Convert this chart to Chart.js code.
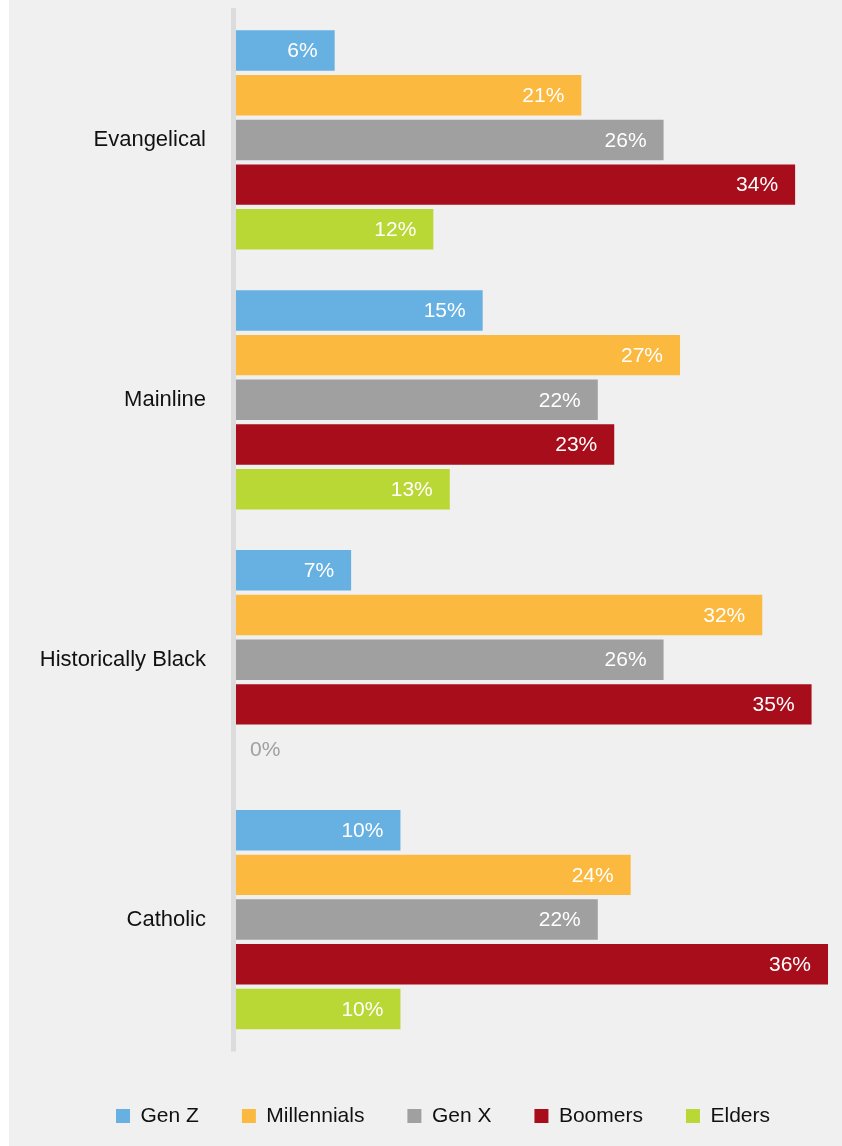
<!DOCTYPE html>
<html>
<head>
<meta charset="utf-8">
<title>Religious tradition by generation</title>
<script src="https://cdn.jsdelivr.net/npm/chart.js@4"></script>
<style>
    body { margin: 0; background: #fff; }
    #wrap {
        width: 842px;
        height: 1146px;
        background: linear-gradient(to right, #fff 9px, #f0f0f0 9px);
    }
    canvas { display: block; }
</style>
</head>
<body>
<div id="wrap"><canvas id="genChart" width="842" height="1146"></canvas></div>
<script>
const FONT = "'Liberation Sans', Arial, sans-serif";

const traditions = ['Evangelical', 'Mainline', 'Historically Black', 'Catholic'];
const generations = ['Gen Z', 'Millennials', 'Gen X', 'Boomers', 'Elders'];

// percent of each generation, one entry per tradition
const genZ = [6, 15, 7, 10];
const millennials = [21, 27, 32, 24];
const genX = [26, 22, 26, 22];
const boomers = [34, 23, 35, 36];
const elders = [12, 13, 0, 10];

const colors = ['#67b1e2', '#fbb93f', '#a0a0a0', '#a80d1c', '#b9d835'];

const seriesValues = [genZ, millennials, genX, boomers, elders];

/*
 * Grey line down the left edge of the bars
 */
const axisLine = {
    id: 'axisLine',
    beforeDatasetsDraw(chart) {
        const c = chart.ctx;
        const area = chart.chartArea;
        c.save();
        c.fillStyle = '#dcdcdc';
        c.fillRect(area.left - 5, area.top - 2, 5, area.bottom - area.top + 4);
        c.restore();
    }
};

/*
 * Percent labels at the end of each bar (zero values sit just right of the axis)
 */
const barLabels = {
    id: 'barLabels',
    afterDatasetsDraw(chart) {
        const c = chart.ctx;
        c.save();
        c.font = '21px ' + FONT;
        c.textBaseline = 'middle';
        chart.data.datasets.forEach((ds, i) => {
            chart.getDatasetMeta(i).data.forEach((bar, j) => {
                const v = ds.data[j];
                if (v === 0) {
                    c.fillStyle = '#a0a0a0';
                    c.textAlign = 'left';
                    c.fillText(v + '%', bar.base + 14, bar.y + 1);
                } else {
                    c.fillStyle = '#ffffff';
                    c.textAlign = 'right';
                    c.fillText(v + '%', bar.x - 17, bar.y + 1);
                }
            });
        });
        c.restore();
    }
};

/*
 * Nudge the legend a bit right and down from where the layout puts it
 */
const legendOffset = {
    id: 'legendOffset',
    afterLayout(chart) {
        const lg = chart.legend;
        lg.left += 12;
        lg.right += 12;
        lg.top += 13;
        lg.bottom += 13;
    }
};

const ctx = document.getElementById('genChart').getContext('2d');

const genChart = new Chart(ctx, {
    type: 'bar',
    data: {
        labels: traditions,
        datasets: generations.map((g, i) => ({
            label: g,
            data: seriesValues[i],
            backgroundColor: colors[i],
            borderWidth: 0,
            barPercentage: 0.905,
            categoryPercentage: 0.86
        }))
    },
    options: {
        indexAxis: 'y',
        responsive: false,
        animation: false,
        layout: {
            padding: { left: 20, right: 0, top: 10, bottom: 22.5 }
        },
        scales: {
            x: {
                display: false,
                min: 0,
                max: 36.85
            },
            y: {
                border: { display: false },
                // invisible tick marks keep the labels 30px off the bars
                grid: {
                    display: true,
                    drawOnChartArea: false,
                    drawTicks: true,
                    tickLength: 30,
                    color: 'rgba(0,0,0,0)'
                },
                ticks: {
                    padding: 0,
                    color: '#111111',
                    font: { family: FONT, size: 22, lineHeight: 0.9 }
                },
                afterFit(scale) {
                    scale.width = 216;
                }
            }
        },
        plugins: {
            legend: {
                position: 'bottom',
                labels: {
                    boxWidth: 14,
                    boxHeight: 14,
                    padding: 43,
                    color: '#111111',
                    font: { family: FONT, size: 21 }
                }
            },
            tooltip: { enabled: false }
        }
    },
    plugins: [axisLine, barLabels, legendOffset]
});
</script>
</body>
</html>
